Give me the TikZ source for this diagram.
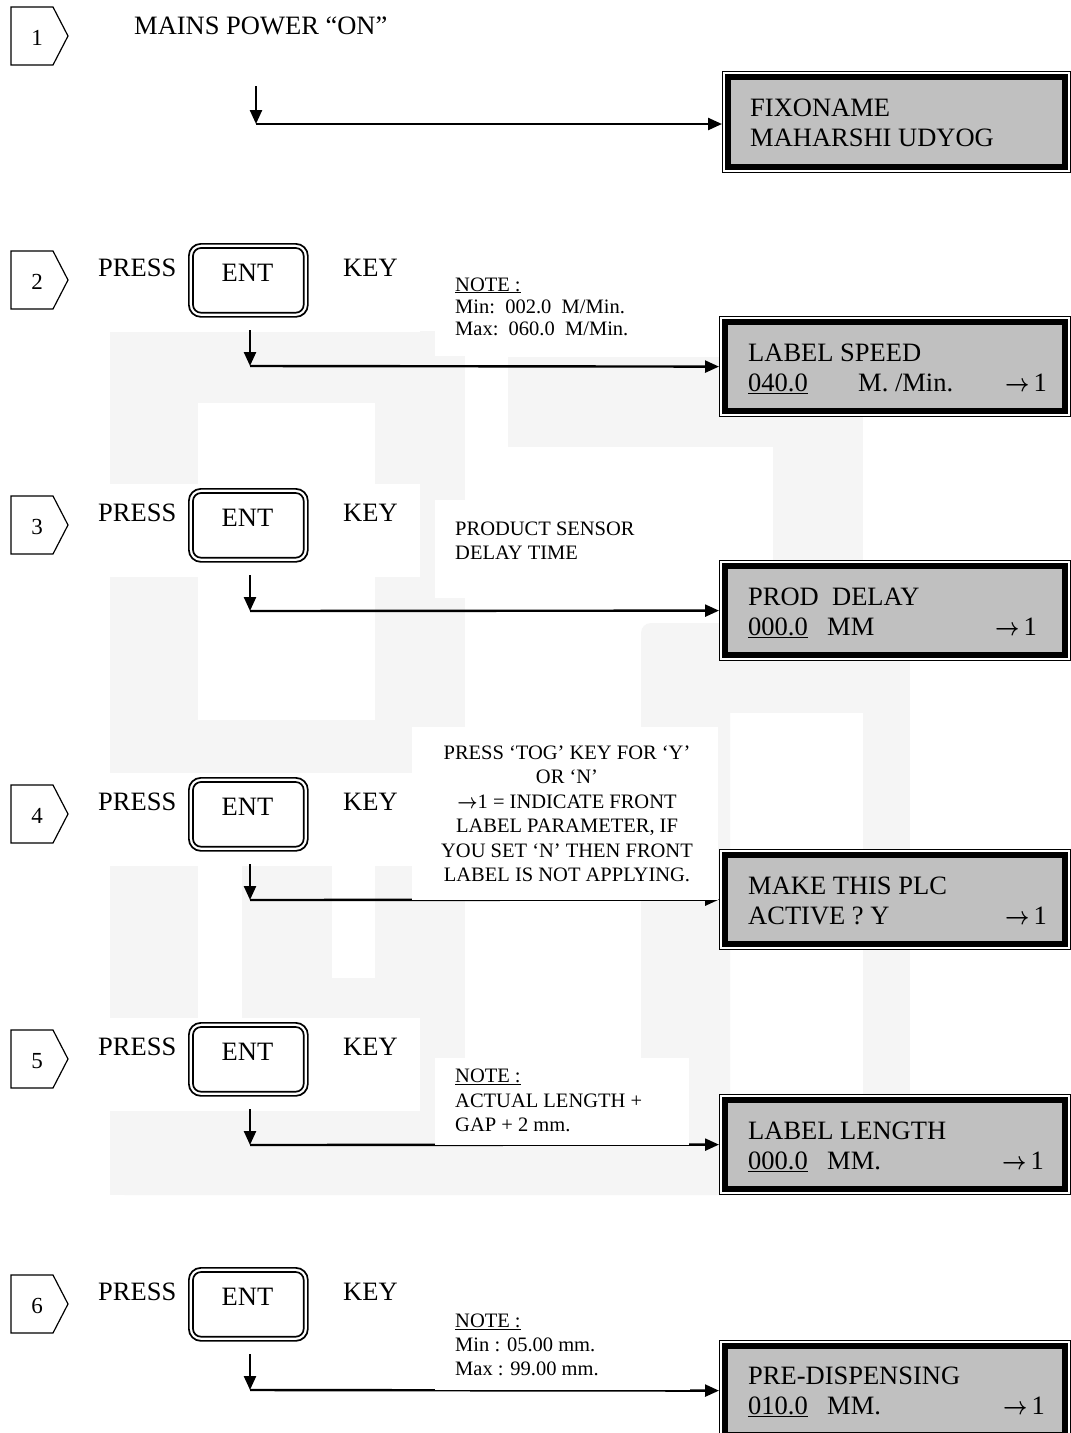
\documentclass[tikz,border=0pt]{standalone}
\usepackage{fontspec}
\setmainfont{Liberation Serif}
\newcommand{\rarr}{\scalebox{0.85}[1]{\boldmath$\rightarrow$}}
\usetikzlibrary{arrows.meta}
\definecolor{wm}{gray}{0.962}
\definecolor{lcdgray}{gray}{0.753}
\tikzset{
  arr/.style={line width=2.4pt, -{Triangle[length=14pt,width=12pt]}},
  badge/.style={draw, line width=1.2pt},
  big/.style={font=\fontsize{26.5}{30}\selectfont, inner sep=0pt},
  small/.style={font=\fontsize{20.5}{24}\selectfont, inner sep=0pt},
  num/.style={font=\fontsize{23}{26}\selectfont, inner sep=0pt, anchor=base},
  lcdout/.style={draw, line width=1.2pt, fill=white, minimum height=100pt, anchor=north west, inner sep=0pt},
  lcdin/.style={draw, line width=6pt, fill=lcdgray},
  keyout/.style={draw, line width=1.7pt, rounded corners=12pt, minimum width=119pt, minimum height=73pt, anchor=north west, inner sep=0pt},
  keyin/.style={draw, line width=1.7pt, rounded corners=8pt},
  notebg/.style={fill=white},
}
\begin{document}
\begin{tikzpicture}[x=1pt,y=-1pt]
\useasboundingbox[fill=white] (0,0) rectangle (1071,1433);
% ---- faint watermark
\fill[wm] (110,331) rectangle (198,1195);
\fill[wm] (198,331) rectangle (465,403);
\fill[wm] (375,403) rectangle (465,1110);
\fill[wm] (508,357) rectangle (863,447);
\fill[wm] (773,447) rectangle (863,620);
\fill[wm, rounded corners=10pt] (641,623) rectangle (730,1110);
\fill[wm] (730,623) rectangle (910,713);
\fill[wm] (863,713) rectangle (910,1195);
\fill[wm, rounded corners=15pt] (110,1110) rectangle (910,1195);
\fill[wm] (198,720) rectangle (375,773);
\fill[wm] (242,866) rectangle (332,1110);
\fill[wm] (332,978) rectangle (375,1110);
% ---- white bands of the key rows
\foreach \t in {243,488,777,1022,1267} {
  \fill[white] (90,{\t-4}) rectangle (420,{\t+89});
}
% ---- LCD displays
\node[lcdout, minimum width=348pt, minimum height=101pt] (l1) at (722,71) {};
\node[lcdout, minimum width=351pt] (l2) at (719,316) {};
\node[lcdout, minimum width=351pt] (l3) at (719,560) {};
\node[lcdout, minimum width=351pt] (l4) at (719,849) {};
\node[lcdout, minimum width=351pt] (l5) at (719,1094) {};
\node[lcdout, minimum width=351pt] (l6) at (719,1340) {};
\foreach \b in {l1,l2,l3,l4,l5,l6} {
  \draw[lcdin] ([xshift=6pt,yshift=-6pt]\b.north west) rectangle ([xshift=-6pt,yshift=6pt]\b.south east);
}
% ---- step 1
\draw[badge] (11,7) -- (53,7) -- (68,36) -- (53,65) -- (11,65) -- cycle;
\node[num] (b1) at (37,45) {1};
\node[big, anchor=base west] (mains) at (134,34) {MAINS POWER “ON”};
\coordinate (s1) at (256,86);
\coordinate (j1) at (256,124);
\draw[arr] (s1) -- (j1);
\draw[arr] (j1) -- (j1 -| l1.west);
% ---- steps 2..6
\foreach \n/\t in {2/243,3/488,4/777,5/1022,6/1267} {
  \draw[badge] (11,{\t+8}) -- (53,{\t+8}) -- (68,{\t+37}) -- (53,{\t+66}) -- (11,{\t+66}) -- cycle;
  \node[num] (b\n) at (37,{\t+46}) {\n};
  \node[keyout] (k\n) at (188,\t) {};
  \draw[keyin] ([xshift=5pt,yshift=-5pt]k\n.north west) rectangle ([xshift=-5pt,yshift=5pt]k\n.south east);
  \node[big, anchor=base] (e\n) at (247.5,{\t+38}) {ENT};
  \node[big, anchor=base west] (p\n) at (98,{\t+33}) {PRESS};
  \node[big, anchor=base west] (y\n) at (343,{\t+33}) {KEY};
  \coordinate (s\n) at (250,{\t+87});
  \coordinate (j\n) at (250,{\t+123});
  \draw[arr] (s\n) -- (j\n);
  \draw[arr] (j\n) -- (l\n.west);
}
% ---- note backgrounds (they cover part of the connectors)
\fill[notebg] (435,258) rectangle (640,356);
\fill[notebg] (435,500) rectangle (640,598);
\fill[notebg] (412,727) rectangle (718,900);
\fill[notebg] (435,1058) rectangle (689,1145);
\fill[notebg] (435,1300) rectangle (690,1390);
% ---- notes
\node[small, anchor=base west] (n2a) at (455,291) {\underline{NOTE :}};
\node[small, anchor=base west] (n2b) at (455,313) {Min:\ \ 002.0\ \ M/Min.};
\node[small, anchor=base west] (n2c) at (455,335) {Max:\ \ 060.0\ \ M/Min.};
\node[small, anchor=base west] (n3a) at (455,535) {PRODUCT SENSOR};
\node[small, anchor=base west] (n3b) at (455,559) {DELAY TIME};
\node[small, anchor=base] (n4a) at (567,759) {PRESS ‘TOG’ KEY FOR ‘Y’};
\node[small, anchor=base] (n4b) at (567,783) {OR ‘N’};
\node[small, anchor=base] (n4c) at (567,808) {\rarr1 = INDICATE FRONT};
\node[small, anchor=base] (n4d) at (567,832) {LABEL PARAMETER, IF};
\node[small, anchor=base] (n4e) at (567,857) {YOU SET ‘N’ THEN FRONT};
\node[small, anchor=base] (n4f) at (567,881) {LABEL IS NOT APPLYING.};
\node[small, anchor=base west] (n5a) at (455,1082) {\underline{NOTE :}};
\node[small, anchor=base west] (n5b) at (455,1107) {ACTUAL LENGTH +};
\node[small, anchor=base west] (n5c) at (455,1131) {GAP + 2 mm.};
\node[small, anchor=base west] (n6a) at (455,1327) {\underline{NOTE :}};
\node[small, anchor=base west] (n6b) at (455,1351) {Min : 05.00 mm.};
\node[small, anchor=base west] (n6c) at (455,1375) {Max : 99.00 mm.};
% ---- LCD texts
\node[big, anchor=base west] (t1a) at (750,116) {FIXONAME};
\node[big, anchor=base west] (t1b) at (750,146) {MAHARSHI UDYOG};
\node[big, anchor=base west] (t2a) at (748,361) {LABEL SPEED};
\node[big, anchor=base west] (t2b) at (748,391) {\makebox[110pt][l]{\underline{040.0}}\makebox[147pt][l]{M. /Min.}\rarr\kern4pt 1};
\node[big, anchor=base west] (t3a) at (748,605) {PROD\ \ DELAY};
\node[big, anchor=base west] (t3b) at (748,635) {\makebox[79pt][l]{\underline{000.0}}\makebox[168pt][l]{MM}\rarr\kern4pt 1};
\node[big, anchor=base west] (t4a) at (748,894) {MAKE THIS PLC};
\node[big, anchor=base west] (t4b) at (748,924) {\makebox[257pt][l]{ACTIVE ? Y}\rarr\kern4pt 1};
\node[big, anchor=base west] (t5a) at (748,1139) {LABEL LENGTH};
\node[big, anchor=base west] (t5b) at (748,1169) {\makebox[79pt][l]{\underline{000.0}}\makebox[175pt][l]{MM.}\rarr\kern4pt 1};
\node[big, anchor=base west] (t6a) at (748,1384) {PRE-DISPENSING};
\node[big, anchor=base west] (t6b) at (748,1414) {\makebox[79pt][l]{\underline{010.0}}\makebox[176pt][l]{MM.}\rarr\kern4pt 1};
\end{tikzpicture}
\end{document}
